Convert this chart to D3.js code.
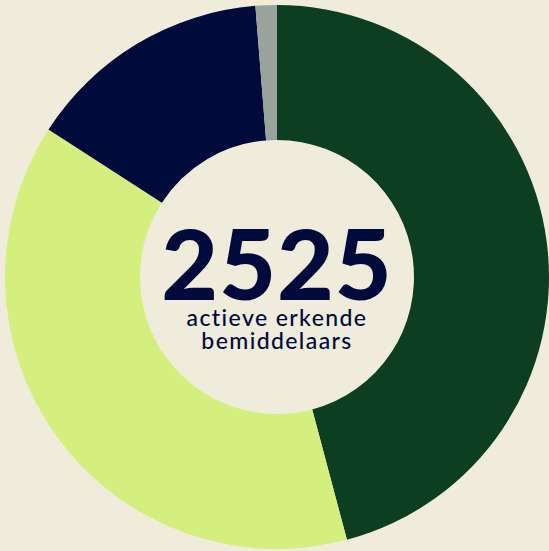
<!DOCTYPE html>
<html>
<head>
<meta charset="utf-8">
<script src="https://cdn.jsdelivr.net/npm/d3@7"></script>
<style>
  html, body { margin: 0; padding: 0; background: #efecdc; }
  svg { display: block; }
</style>
</head>
<body>
<div class="container"></div>
<script>
'use strict';

// Segment data, clockwise from the top
const categories = ['groep A', 'groep B', 'groep C', 'groep D'];
const values = [1158, 966, 369, 32];
const colors = ['#0d3e22', '#d5ef7f', '#000b3b', '#99a39b'];
const total = 2525;
const subtitle = ['actieve erkende', 'bemiddelaars'];

(function () {
  const width = 549, height = 551;
  const cx = 277, cy = 277;
  const outerR = 272, innerR = 137;

  const svg = d3.select('.container').append('svg')
    .attr('width', width)
    .attr('height', height);

  svg.append('rect')
    .attr('width', width)
    .attr('height', height)
    .attr('fill', '#efecdc');

  const pie = d3.pie().sort(null).value(d => d.value);
  const arc = d3.arc().innerRadius(innerR).outerRadius(outerR);

  const data = categories.map((c, i) => ({ name: c, value: values[i], color: colors[i] }));

  const g = svg.append('g').attr('transform', 'translate(' + cx + ',' + cy + ')');

  g.selectAll('path')
    .data(pie(data))
    .enter()
    .append('path')
    .attr('d', arc)
    .attr('fill', d => d.data.color);

  g.append('text')
    .attr('text-anchor', 'middle')
    .attr('y', 23)
    .attr('fill', '#000b3b')
    .style('font-family', 'Lato, "Open Sans", sans-serif')
    .style('font-weight', 900)
    .style('font-size', '98px')
    .style('letter-spacing', '1px')
    .text(total);

  g.selectAll('text.sub')
    .data(subtitle)
    .enter()
    .append('text')
    .attr('class', 'sub')
    .attr('text-anchor', 'middle')
    .attr('y', (d, i) => 49 + i * 23)
    .attr('fill', '#000b3b')
    .style('font-family', 'Lato, "Open Sans", sans-serif')
    .style('font-weight', 500)
    .style('font-size', '23px')
    .style('letter-spacing', '1.4px')
    .text(d => d);
})();
</script>
</body>
</html>
